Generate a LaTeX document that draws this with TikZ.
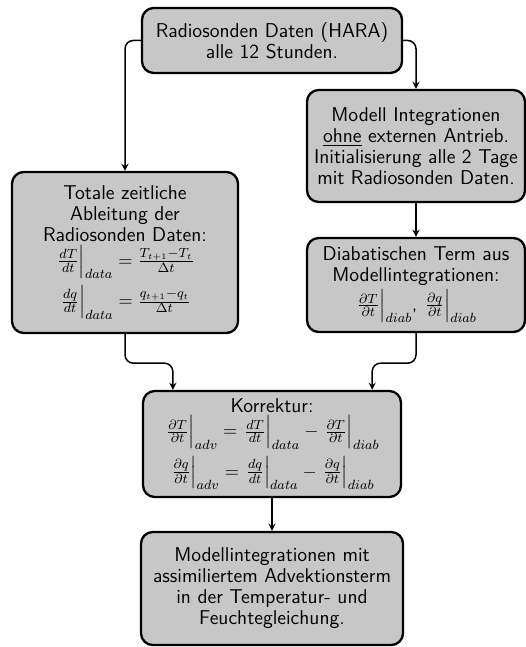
\documentclass[tikz,border=0pt]{standalone}
\usepackage{amsmath}
\newcommand{\evl}[2]{\left.#1\vphantom{\frac{\partial q}{\partial t}}\right|_{#2}}
\newcommand{\eqsize}{\fontsize{11}{12}\selectfont}
\begin{document}
\begin{tikzpicture}[x=0.6pt,y=-0.6pt,
box/.style={draw=black, line width=1.4pt, fill=black!22, rounded corners=7pt, align=center, inner sep=2pt, font=\sffamily\fontsize{12}{12.6}\selectfont},
arr/.style={-stealth, line width=0.9pt, rounded corners=5pt}]
\useasboundingbox (0,0) rectangle (526,647);
\node[box, minimum width=156pt, minimum height=39pt] (src) at (272,40.5)
{Radiosonden Daten (HARA)\\ alle 12 Stunden.};
\node[box, minimum width=130.8pt, minimum height=67.2pt] (modell) at (416,146)
{Modell Integrationen\\ \underline{ohne} externen Antrieb.\\ Initialisierung alle 2 Tage\\ mit Radiosonden Daten.};
\node[box, minimum width=130.8pt, minimum height=56.4pt] (diab) at (416,285)
{Diabatischen Term aus\\ Modellintegrationen:\\[1pt]
{\eqsize$\evl{\frac{\partial T}{\partial t}}{diab}$, $\evl{\frac{\partial q}{\partial t}}{diab}$}};
\node[box, minimum width=135.6pt, minimum height=96.6pt] (tot) at (125,252.5)
{Totale zeitliche\\ Ableitung der\\ Radiosonden Daten:\\[1pt]
{\eqsize$\evl{\frac{dT}{dt}}{data} = \frac{T_{t+1}-T_t}{\Delta t}$}\\[3pt]
{\eqsize$\evl{\frac{dq}{dt}}{data} = \frac{q_{t+1}-q_t}{\Delta t}$}};
\node[box, minimum width=154.8pt, minimum height=63.6pt] (korr) at (272,444)
{Korrektur:\\[1pt]
{\eqsize$\evl{\frac{\partial T}{\partial t}}{adv} = \evl{\frac{dT}{dt}}{data} - \evl{\frac{\partial T}{\partial t}}{diab}$}\\[3pt]
{\eqsize$\evl{\frac{\partial q}{\partial t}}{adv} = \evl{\frac{dq}{dt}}{data} - \evl{\frac{\partial q}{\partial t}}{diab}$}};
\node[box, minimum width=157.2pt, minimum height=67.8pt] (out) at (272,588.5)
{Modellintegrationen mit\\ assimiliertem Advektionsterm\\ in der Temperatur- und\\ Feuchtegleichung.};
\draw[arr] (src.west) -| (tot.north);
\draw[arr] (src.east) -| (modell.north);
\draw[arr] (modell) -- (diab);
\draw[arr] (tot.south) -- ++(0,29) -| ([xshift=18.6pt]korr.north west);
\draw[arr] (diab.south) -- ++(0,30) -| ([xshift=-18pt]korr.north east);
\draw[arr] (korr) -- (out);
\end{tikzpicture}
\end{document}
